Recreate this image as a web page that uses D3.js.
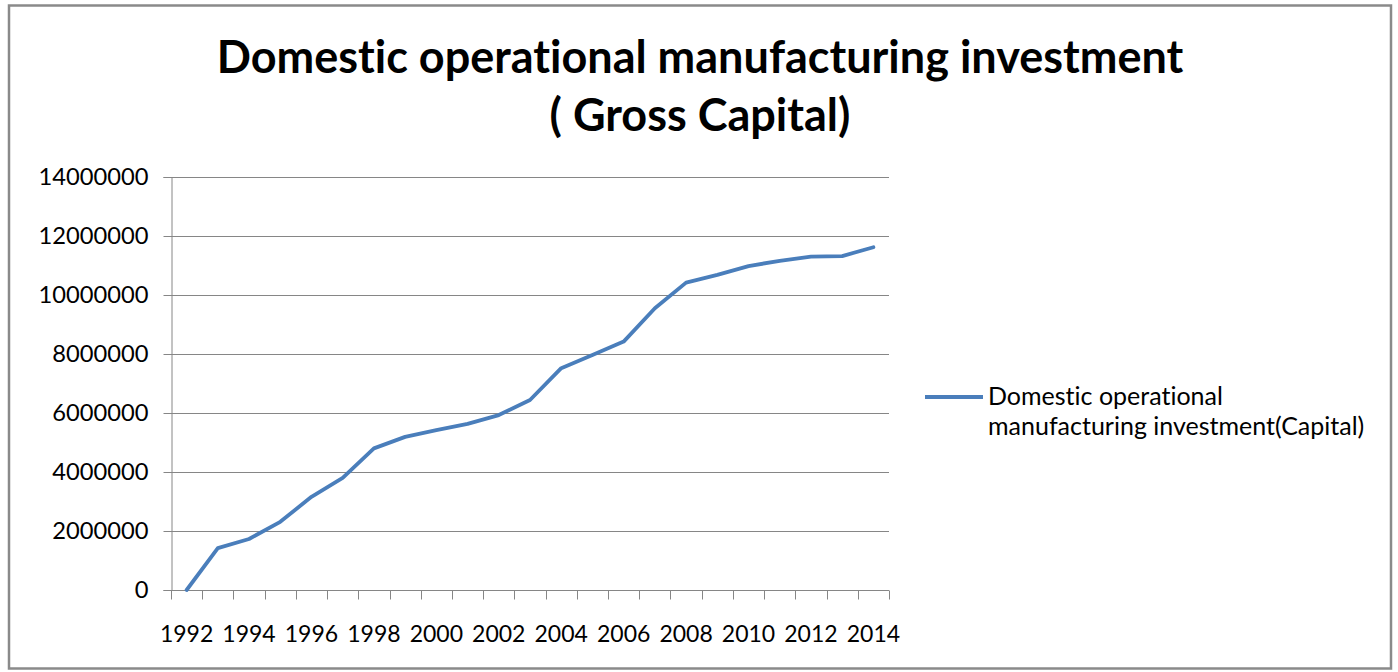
<!DOCTYPE html>
<html>
<head>
<meta charset="utf-8">
<script src="https://cdn.jsdelivr.net/npm/d3@7"></script>
<style>
  html, body { margin: 0; padding: 0; background: #fff; }
  svg { display: block; }
  text { font-family: Lato, "Open Sans", sans-serif; fill: #000; font-variant-ligatures: none; }
</style>
</head>
<body>
<svg id="chart" width="1398" height="672"></svg>
<script>
// Domestic operational manufacturing investment (gross capital), 1992–2014
const years = ["1992","1993","1994","1995","1996","1997","1998","1999","2000","2001","2002",
               "2003","2004","2005","2006","2007","2008","2009","2010","2011","2012","2013","2014"];
const capital = [0, 1420000, 1730000, 2310000, 3160000, 3800000, 4800000, 5190000, 5420000,
                 5630000, 5930000, 6440000, 7520000, 7970000, 8420000, 9550000, 10420000,
                 10680000, 10980000, 11160000, 11300000, 11320000, 11620000];
const yTicks = [0, 2000000, 4000000, 6000000, 8000000, 10000000, 12000000, 14000000];
const xLabelYears = years.filter((d, i) => i % 2 === 0);
const titleLines = ["Domestic operational manufacturing investment", "( Gross Capital)"];
const legendLines = ["Domestic operational", "manufacturing investment(Capital)"];

const svg = d3.select("#chart");
const plot = { left: 171, right: 889, top: 177, bottom: 590 };
const lineColor = "#4a7ebb";

// outer chart frame
svg.append("rect")
  .attr("x", 9).attr("y", 5.5).attr("width", 1382).attr("height", 663)
  .attr("fill", "#fff").attr("stroke", "#8a8a8a").attr("stroke-width", 2.5);

// title
svg.append("g").selectAll("text").data(titleLines).join("text")
  .attr("x", 700).attr("y", (d, i) => 73 + i * 58)
  .attr("text-anchor", "middle")
  .style("font-weight", "bold").style("font-size", "45px")
  .text(d => d);

const x = d3.scaleBand().domain(years).range([plot.left, plot.right]).padding(0);
const y = d3.scaleLinear().domain([0, 14000000]).range([plot.bottom, plot.top]);

// horizontal gridlines
svg.append("g").selectAll("line").data(yTicks.filter(d => d > 0)).join("line")
  .attr("x1", plot.left).attr("x2", plot.right)
  .attr("y1", d => Math.round(y(d)) + 0.5).attr("y2", d => Math.round(y(d)) + 0.5)
  .attr("stroke", "#868686").attr("stroke-width", 1);

// y axis
const yAxis = svg.append("g")
  .attr("transform", `translate(${plot.left + 0.5},0)`)
  .call(d3.axisLeft(y).tickValues(yTicks).tickFormat(d3.format("d")).tickSize(8).tickPadding(15));
yAxis.select(".domain").attr("stroke", "#868686");
yAxis.selectAll(".tick line").attr("stroke", "#868686");
yAxis.selectAll(".tick text").style("font-size", "23.7px").attr("fill", "#000")
  .style("font-family", "Lato, sans-serif");

// x axis: tick marks on category boundaries, labels every other year
const xAxis = svg.append("g").attr("transform", `translate(0,${plot.bottom + 0.5})`);
xAxis.append("line")
  .attr("x1", plot.left).attr("x2", plot.right)
  .attr("stroke", "#868686");
const boundaries = years.map(d => x(d)).concat([x(years[years.length - 1]) + x.bandwidth()]);
xAxis.selectAll("line.tk").data(boundaries).join("line").attr("class", "tk")
  .attr("x1", d => Math.round(d) + 0.5).attr("x2", d => Math.round(d) + 0.5)
  .attr("y1", 0).attr("y2", 9).attr("stroke", "#868686");
xAxis.selectAll("text").data(xLabelYears).join("text")
  .attr("x", d => x(d) + x.bandwidth() / 2).attr("y", 51)
  .attr("text-anchor", "middle").style("font-size", "23px")
  .text(d => d);

// data line
const line = d3.line()
  .x((d, i) => x(years[i]) + x.bandwidth() / 2)
  .y(d => y(d));
svg.append("path").datum(capital)
  .attr("d", line).attr("fill", "none")
  .attr("stroke", lineColor).attr("stroke-width", 3.8)
  .attr("stroke-linejoin", "round").attr("stroke-linecap", "round");

// legend
const legend = svg.append("g");
legend.append("line").attr("x1", 925).attr("x2", 983).attr("y1", 397).attr("y2", 397)
  .attr("stroke", lineColor).attr("stroke-width", 3.8);
legend.selectAll("text").data(legendLines).join("text")
  .attr("x", 988).attr("y", (d, i) => 405 + i * 30)
  .style("font-size", "25px")
  .text(d => d);
</script>
</body>
</html>
